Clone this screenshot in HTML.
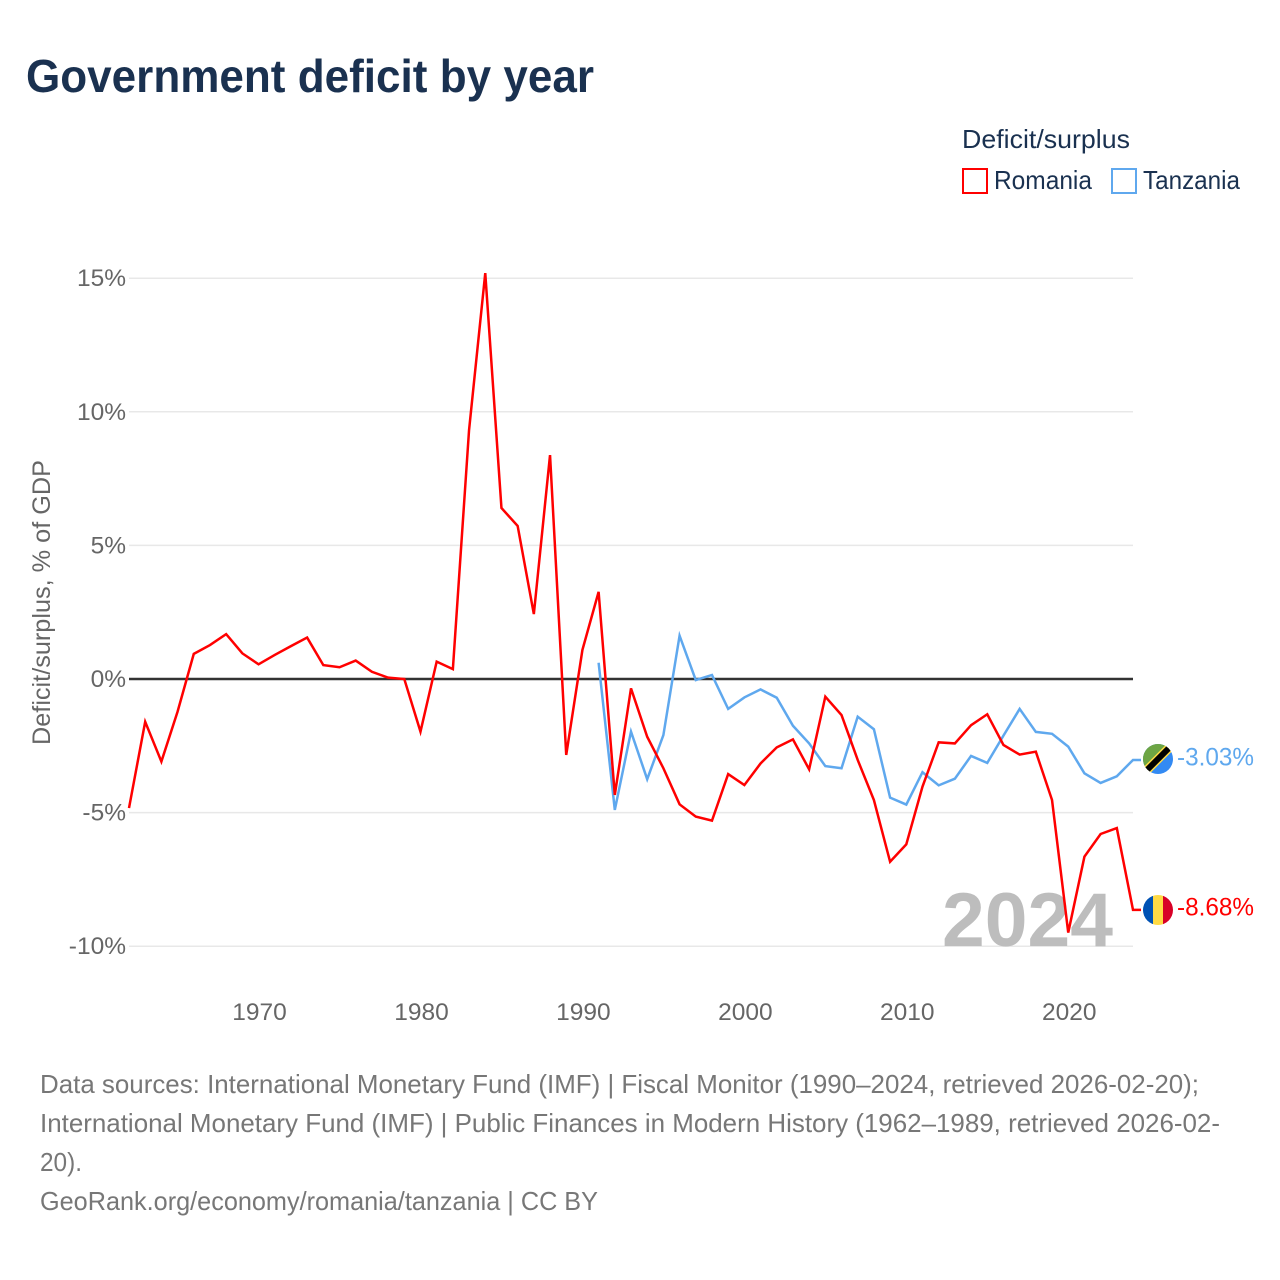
<!DOCTYPE html>
<html lang="en">
<head>
<meta charset="utf-8">
<title>Government deficit by year</title>
<style>
html,body{margin:0;padding:0;background:#fff;}
svg{display:block;}
text{font-family:"Liberation Sans",sans-serif;}
</style>
</head>
<body>
<svg id="chart" xmlns="http://www.w3.org/2000/svg" width="1280" height="1280" viewBox="0 0 1280 1280">
  <rect x="0" y="0" width="1280" height="1280" fill="#fff"/>
  <text x="26" y="92" font-size="46" font-weight="700" fill="#1a3150" textLength="568" lengthAdjust="spacingAndGlyphs">Government deficit by year</text>

  <g>
    <text x="962" y="148" font-size="26" fill="#1a3150" textLength="168" lengthAdjust="spacingAndGlyphs">Deficit/surplus</text>
    <g>
      <rect x="963" y="169" width="24" height="24" fill="#fff" stroke="#ff0000" stroke-width="2"/>
      <text x="994" y="189" font-size="26" fill="#1a3150" textLength="98" lengthAdjust="spacingAndGlyphs">Romania</text>
    </g>
    <g>
      <rect x="1112" y="169" width="24" height="24" fill="#fff" stroke="#5fa8ee" stroke-width="2"/>
      <text x="1143" y="189" font-size="26" fill="#1a3150" textLength="97" lengthAdjust="spacingAndGlyphs">Tanzania</text>
    </g>
  </g>

  <text transform="translate(50,745) rotate(-90)" x="0" y="0" font-size="25" fill="#666" textLength="285" lengthAdjust="spacingAndGlyphs">Deficit/surplus, % of GDP</text>

  <g id="grid"></g>
  <g id="yTicks"></g>
  <g id="xTicks"></g>

  <text x="942" y="946" font-size="76" font-weight="700" fill="#bdbdbd" textLength="171" lengthAdjust="spacingAndGlyphs">2024</text>

  <line id="zeroLine" stroke="#333" stroke-width="2.5"/>
  <g id="series"></g>

  <defs>
    <clipPath id="tzClip"><circle cx="1158" cy="759" r="15"/></clipPath>
    <clipPath id="roClip"><circle cx="1158" cy="910" r="15"/></clipPath>
  </defs>
  <g clip-path="url(#tzClip)">
    <rect x="1143" y="744" width="30" height="30" fill="#338af3"/>
    <polygon points="1143,744 1173,744 1143,774" fill="#6da544"/>
    <line x1="1139" y1="778" x2="1177" y2="740" stroke="#ffda44" stroke-width="9"/>
    <line x1="1139" y1="778" x2="1177" y2="740" stroke="#000" stroke-width="6"/>
  </g>
  <g clip-path="url(#roClip)">
    <rect x="1143" y="895" width="10" height="30" fill="#0052b4"/>
    <rect x="1153" y="895" width="10" height="30" fill="#ffda44"/>
    <rect x="1163" y="895" width="10" height="30" fill="#d80027"/>
  </g>
  <g id="endLabels"></g>

  <g font-size="26" fill="#777">
    <text x="40" y="1093" textLength="1159" lengthAdjust="spacingAndGlyphs">Data sources: International Monetary Fund (IMF) | Fiscal Monitor (1990–2024, retrieved 2026-02-20);</text>
    <text x="40" y="1132" textLength="1180" lengthAdjust="spacingAndGlyphs">International Monetary Fund (IMF) | Public Finances in Modern History (1962–1989, retrieved 2026-02-</text>
    <text x="40" y="1171" textLength="42" lengthAdjust="spacingAndGlyphs">20).</text>
    <text x="40" y="1210" textLength="558" lengthAdjust="spacingAndGlyphs">GeoRank.org/economy/romania/tanzania | CC BY</text>
  </g>
</svg>
<script>
var romaniaStartYear = 1962;
var romaniaValues = [-4.83,-1.6,-3.09,-1.22,0.94,1.27,1.68,0.96,0.55,0.9,1.23,1.55,0.52,0.44,0.69,0.27,0.05,0,-1.97,0.65,0.37,9.32,15.19,6.4,5.73,2.43,8.38,-2.84,1.09,3.26,-4.34,-0.35,-2.16,-3.34,-4.69,-5.15,-5.3,-3.56,-3.97,-3.16,-2.56,-2.26,-3.38,-0.66,-1.35,-3.03,-4.53,-6.84,-6.19,-4.03,-2.37,-2.41,-1.73,-1.32,-2.47,-2.83,-2.72,-4.53,-9.49,-6.65,-5.8,-5.58,-8.64];
var tanzaniaStartYear = 1991;
var tanzaniaValues = [0.61,-4.9,-1.97,-3.75,-2.1,1.62,-0.04,0.15,-1.12,-0.69,-0.39,-0.7,-1.75,-2.41,-3.26,-3.34,-1.41,-1.88,-4.44,-4.7,-3.49,-3.98,-3.73,-2.88,-3.14,-2.12,-1.12,-1.98,-2.05,-2.53,-3.53,-3.89,-3.64,-3.03];
var yTickValues = [15,10,5,0,-5,-10];
var xTickYears = [1970,1980,1990,2000,2010,2020];
var endLabelTexts = ["-3.03%","-8.68%"];

var NS = "http://www.w3.org/2000/svg";
function xScale(year){ return 129 + (year - 1962) * (1133 - 129) / (2024 - 1962); }
function yScale(v){ return 679 - v * 26.72; }
function make(tag, attrs, parent){
  var el = document.createElementNS(NS, tag);
  for (var k in attrs) el.setAttribute(k, attrs[k]);
  parent.appendChild(el);
  return el;
}
var grid = document.getElementById("grid");
var yTicks = document.getElementById("yTicks");
var xTicks = document.getElementById("xTicks");
var seriesGroup = document.getElementById("series");
var endLabels = document.getElementById("endLabels");

yTickValues.forEach(function(v){
  var line = make("line", {x1:129, x2:1133, y1:yScale(v), y2:yScale(v), stroke:"#e8e8e8", "stroke-width":1.5}, grid);
  
  
  var t = make("text", {x:126, y:yScale(v) + 8, "text-anchor":"end", "font-size":24.5, fill:"#666"}, yTicks);
  t.textContent = v + "%";
  
  
});
xTickYears.forEach(function(y){
  var t = make("text", {x:xScale(y) + 1, y:1020, "text-anchor":"middle", "font-size":24.5, fill:"#666"}, xTicks);
  t.textContent = y;
  
  
});
var zero = document.getElementById("zeroLine");
zero.setAttribute("x1", xScale(1962));
zero.setAttribute("x2", xScale(2024));
zero.setAttribute("y1", yScale(0));
zero.setAttribute("y2", yScale(0));

function seriesPoints(start, values){
  var pts = values.map(function(v, i){ return xScale(start + i).toFixed(2) + "," + yScale(v).toFixed(2); });
  pts.push((xScale(start + values.length - 1) + 8).toFixed(2) + "," + yScale(values[values.length - 1]).toFixed(2));
  return pts.join(" ");
}
var tzLine = make("polyline", {points:seriesPoints(tanzaniaStartYear, tanzaniaValues), fill:"none", stroke:"#5fa8ee", "stroke-width":2.5, "stroke-linejoin":"miter"}, seriesGroup);


var roLine = make("polyline", {points:seriesPoints(romaniaStartYear, romaniaValues), fill:"none", stroke:"#ff0000", "stroke-width":2.5, "stroke-linejoin":"miter"}, seriesGroup);



var tzLabel = make("text", {x:1177, y:yScale(tanzaniaValues[tanzaniaValues.length - 1]) + 5.5, "font-size":25, fill:"#5fa8ee", textLength:77, lengthAdjust:"spacingAndGlyphs"}, endLabels);
tzLabel.textContent = endLabelTexts[0];


var roLabel = make("text", {x:1177, y:yScale(romaniaValues[romaniaValues.length - 1]) + 5.5, "font-size":25, fill:"#ff0000", textLength:77, lengthAdjust:"spacingAndGlyphs"}, endLabels);
roLabel.textContent = endLabelTexts[1];


</script>
</body>
</html>
